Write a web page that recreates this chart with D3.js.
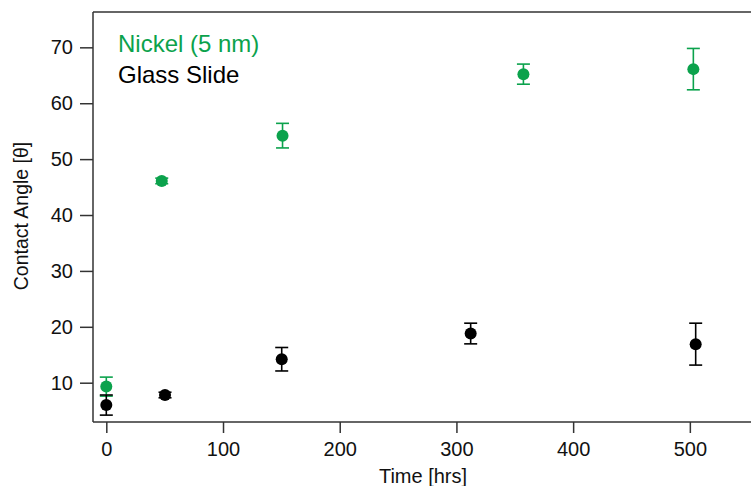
<!DOCTYPE html>
<html>
<head>
<meta charset="utf-8">
<script src="https://cdn.jsdelivr.net/npm/d3@7"></script>
<style>
  html, body { margin: 0; padding: 0; background: #fff; }
  svg { display: block; font-family: "Liberation Sans", Arial, Helvetica, sans-serif; }
</style>
</head>
<body>
<svg id="chart" width="751" height="486"></svg>
<script>
// ---- data ----
const nickelTimes = [0, 47.5, 151, 357.4, 503];
const nickelAngle = [9.3, 46.1, 54.2, 65.2, 66.1];
const nickelErr   = [1.7, 0.5, 2.2, 1.8, 3.7];

const glassTimes = [0, 50.3, 150.3, 312.2, 505];
const glassAngle = [6.0, 7.8, 14.2, 18.8, 16.9];
const glassErr   = [1.8, 0.5, 2.1, 1.85, 3.75];

const xTicks = [0, 100, 200, 300, 400, 500];
const yTicks = [10, 20, 30, 40, 50, 60, 70];
const seriesNames = ["Nickel (5 nm)", "Glass Slide"];
const xTitle = "Time [hrs]";
const yTitle = "Contact Angle [θ]";

// ---- layout ----
const W = 751, H = 486;
const mLeft = 93, mTop = 12, mBottom = 422, mRight = 751;
const green = "#0ba24c", black = "#000000", axisColor = "#333333";

const svg = d3.select("#chart");
const x = d3.scaleLinear().domain([-11.4, 552.4]).range([mLeft, mRight]);
const y = d3.scaleLinear().domain([2.97, 76.32]).range([mBottom, mTop]);

// frame lines
svg.append("line").attr("x1", mLeft).attr("x2", W + 5).attr("y1", mTop).attr("y2", mTop)
  .attr("stroke", axisColor).attr("stroke-width", 1.5);

// axes
const xAxis = svg.append("g").attr("transform", `translate(0,${mBottom})`)
  .call(d3.axisBottom(x).tickValues(xTicks).tickSize(11).tickPadding(9).tickFormat(d3.format("d")));
const yAxis = svg.append("g").attr("transform", `translate(${mLeft},0)`)
  .call(d3.axisLeft(y).tickValues(yTicks).tickSize(13).tickPadding(7).tickFormat(d3.format("d")));

[xAxis, yAxis].forEach(g => {
  g.select(".domain").remove();
  g.selectAll(".tick line").attr("stroke", axisColor).attr("stroke-width", 1.5);
  g.selectAll(".tick text").attr("fill", "#111").style("font-size", "20px")
    .style("font-family", '"Liberation Sans", Arial, sans-serif');
});
svg.append("line").attr("x1", mLeft).attr("x2", mLeft).attr("y1", mTop).attr("y2", mBottom)
  .attr("stroke", axisColor).attr("stroke-width", 1.5);
svg.append("line").attr("x1", mLeft).attr("x2", W + 5).attr("y1", mBottom).attr("y2", mBottom)
  .attr("stroke", axisColor).attr("stroke-width", 1.5);

// axis titles
svg.append("text").attr("x", 423).attr("y", 483)
  .attr("text-anchor", "middle").style("font-size", "20px").attr("fill", "#111").text(xTitle);
svg.append("text").attr("transform", `translate(28,216) rotate(-90)`)
  .attr("text-anchor", "middle").style("font-size", "19.5px").attr("fill", "#111").text(yTitle);

// series
const series = [
  {t: nickelTimes, v: nickelAngle, e: nickelErr, c: green},
  {t: glassTimes, v: glassAngle, e: glassErr, c: black}
];
const capW = 6.5;
series.forEach(s => {
  const pts = s.t.map((t, i) => ({t, v: s.v[i], e: s.e[i]}));
  const g = svg.append("g");
  const eb = g.selectAll("g.eb").data(pts).join("g").attr("class", "eb");
  eb.append("line").attr("x1", d => x(d.t)).attr("x2", d => x(d.t))
    .attr("y1", d => y(d.v - d.e)).attr("y2", d => y(d.v + d.e))
    .attr("stroke", s.c).attr("stroke-width", 1.6);
  eb.append("line").attr("x1", d => x(d.t) - capW).attr("x2", d => x(d.t) + capW)
    .attr("y1", d => y(d.v + d.e)).attr("y2", d => y(d.v + d.e))
    .attr("stroke", s.c).attr("stroke-width", 1.6);
  eb.append("line").attr("x1", d => x(d.t) - capW).attr("x2", d => x(d.t) + capW)
    .attr("y1", d => y(d.v - d.e)).attr("y2", d => y(d.v - d.e))
    .attr("stroke", s.c).attr("stroke-width", 1.6);
  g.selectAll("circle").data(pts).join("circle")
    .attr("cx", d => x(d.t)).attr("cy", d => y(d.v)).attr("r", 6)
    .attr("fill", s.c);
});

// legend
const legendColors = [green, black];
svg.selectAll("text.legend").data(seriesNames).join("text").attr("class", "legend")
  .attr("x", 118).attr("y", (d, i) => 52 + i * 31)
  .style("font-size", "24px").attr("fill", (d, i) => legendColors[i]).text(d => d);
</script>
</body>
</html>
